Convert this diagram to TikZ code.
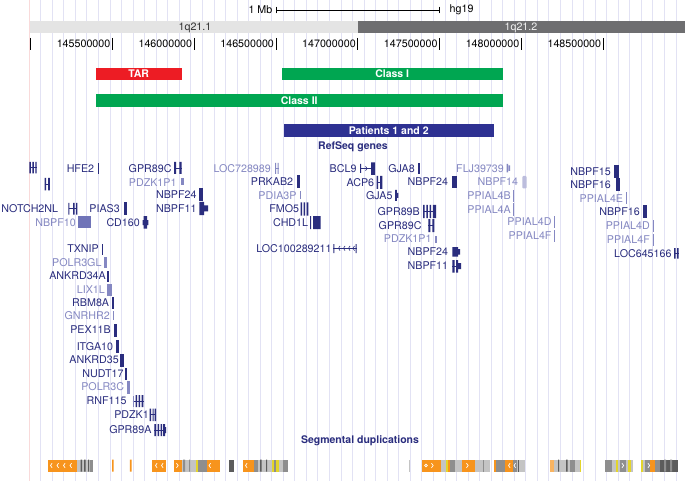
\documentclass[tikz,border=0pt]{standalone}
\usepackage{fontspec}
\setmainfont{TeX Gyre Heros}
\usepackage{tikz}
\usetikzlibrary{positioning}

\definecolor{genedark}{HTML}{2A2D7E}
\definecolor{genelite}{HTML}{8588C2}
\definecolor{genemid}{HTML}{7074B8}
\definecolor{gridblue}{HTML}{E2E2F4}
\definecolor{gridpink}{HTML}{F9DADA}
\definecolor{bandlite}{HTML}{E4E4E4}
\definecolor{banddark}{HTML}{6E6E70}
\definecolor{tarred}{HTML}{ED1C24}
\definecolor{classgreen}{HTML}{00A651}
\definecolor{patblue}{HTML}{2E3192}
\definecolor{sdorange}{HTML}{F7941D}
\definecolor{sdgrayA}{HTML}{C4C4C4}
\definecolor{sdgrayB}{HTML}{8E8E8E}
\definecolor{sdgrayC}{HTML}{5C5C5C}
\definecolor{sdyellow}{HTML}{E3D52B}

\begin{document}
\begin{tikzpicture}[x=1pt, y=-1pt,
    lbl/.style={inner sep=0pt, font=\fontsize{10.7}{12}\selectfont},
    gdark/.style={lbl, anchor=east, text=genedark},
    glite/.style={lbl, anchor=east, text=genelite},
    dk/.style={fill=genedark},
    lt/.style={fill=genelite},
    intron/.style={draw=genedark, line width=0.8pt},
    gridline/.style={draw=gridblue, line width=0.9pt},
    bar/.style={inner sep=0pt, minimum height=12.5pt, anchor=west, text=white,
      font=\fontsize{10.5}{12}\selectfont\bfseries},
    tick/.style={draw=black, line width=0.7pt},
    title/.style={inner sep=0pt, text=genedark, font=\fontsize{10.5}{12}\selectfont\bfseries},
    chev/.style={draw=white, line width=0.7pt}]
        \useasboundingbox (0,0) rectangle (685,481);
        \fill[white] (0,0) rectangle (685,481);

        % Guide lines
        \draw[draw=gridpink, line width=0.9pt] (29.15,0) -- (29.15,481);
        \foreach \k in {1,...,56}
            \draw[gridline] (29.15+\k*11.55,0) -- (29.15+\k*11.55,481);

        % Scale bar
        \coordinate (mbL) at (275.5,10);
        \coordinate (mbR) at (439.5,10);
        \draw[|-|, line width=0.7pt] (mbL) -- (mbR);
        \node (mb) [lbl, left=3pt of mbL] {1 Mb};
        \node (hg) [lbl, right=10pt of mbR] {hg19};

        % Ideogram
        \fill[bandlite] (30,21.5) rectangle (357.7,33.5);
        \fill[banddark] (357.7,21.5) rectangle (685,33.5);
        \node (q211) [lbl, text=black!80] at (195,27.5) {1q21.1};
        \node (q212) [lbl, text=white!90!gray] at (521,27.5) {1q21.2};

        % Base positions
        \draw[tick] (30.5,38) -- (30.5,50);
        \draw[tick] (112.3,38) -- (112.3,50);
        \draw[tick] (194.1,38) -- (194.1,50);
        \draw[tick] (275.9,38) -- (275.9,50);
        \draw[tick] (357.7,38) -- (357.7,50);
        \draw[tick] (439.5,38) -- (439.5,50);
        \draw[tick] (521.3,38) -- (521.3,50);
        \draw[tick] (603.1,38) -- (603.1,50);
        \node (p1) [lbl, anchor=east] at (110.5,44) {145500000};
        \node (p2) [lbl, anchor=east] at (192.3,44) {146000000};
        \node (p3) [lbl, anchor=east] at (274.1,44) {146500000};
        \node (p4) [lbl, anchor=east] at (355.9,44) {147000000};
        \node (p5) [lbl, anchor=east] at (437.7,44) {147500000};
        \node (p6) [lbl, anchor=east] at (519.5,44) {148000000};
        \node (p7) [lbl, anchor=east] at (601.3,44) {148500000};

        % Regions
        \node (tar) [bar, fill=tarred, minimum width=86pt] at (95.5,74) {TAR};
        \node (class1) [bar, fill=classgreen, minimum width=221pt] at (281.5,74) {Class I};
        \node (class2) [bar, fill=classgreen, minimum width=407pt] at (95.5,100.5) {Class II};
        \node (pat) [bar, fill=patblue, minimum width=210pt, minimum height=13pt] at (283.5,130.5) {Patients 1 and 2};

        % RefSeq genes
        \node (refseq) [title] at (353,147) {RefSeq genes};

        \fill[dk] (29.3,162) rectangle (30.8,173.3) (32.3,162) rectangle (33.8,173.3) (35.3,162) rectangle (36.7,173.3);
        \draw[intron] (29.5,167.5) -- (36.5,167.5);
        \fill[dk] (44.5,178) rectangle (46,190.5) (48,178) rectangle (49.8,190.5);
        \draw[intron] (44.5,184) -- (49.8,184);

        \node (hfe2) [gdark] at (94.3,168.3) {HFE2};
        \fill[dk] (97.7,163) rectangle (99,174);
        \node (gpr89ca) [gdark] at (171.7,168.3) {GPR89C};
        \fill[dk] (174,162) rectangle (176,174) (179.3,162) rectangle (181.7,174);
        \draw[intron] (174,168) -- (181.7,168);
        \node (pdzk1p1a) [glite] at (176.7,182.3) {PDZK1P1};
        \fill[lt] (181,178.5) rectangle (184,185.5);
        \node (nbpf24a) [gdark] at (196.7,195) {NBPF24};
        \fill[dk] (199.3,188.5) rectangle (203.3,201.5);
        \node (nbpf11a) [gdark] at (196.7,208.7) {NBPF11};
        \fill[dk] (199.3,202) rectangle (204,215) (203,205.5) rectangle (208,211.5);
        \node (notch2nl) [gdark] at (58.3,208.7) {NOTCH2NL};
        \fill[dk] (68.3,203) rectangle (69.3,214.5) (73,203) rectangle (74.5,214.5) (76,203) rectangle (77.3,214.5);
        \draw[intron] (68.5,208.7) -- (77,208.7);
        \node (pias3) [gdark] at (120,208.7) {PIAS3};
        \fill[dk] (124,202.5) rectangle (126.7,215);
        \node (nbpf10) [glite] at (76,222.7) {NBPF10};
        \fill[genemid] (77.7,216) rectangle (90.7,228.3);
        \node (cd160) [gdark] at (140,222.7) {CD160};
        \fill[dk] (143.5,216) rectangle (147,228.5) (142.7,220) rectangle (148.3,225);

        \node (txnip) [gdark] at (99,249) {TXNIP};
        \fill[dk] (101.7,243.5) rectangle (103,254.5);
        \node (polr3gl) [glite] at (101.7,262.7) {POLR3GL};
        \fill[lt] (104.3,257) rectangle (107.3,268);
        \node (ankrd34a) [gdark] at (106,275.7) {ANKRD34A};
        \fill[dk] (106.5,270.5) rectangle (108.5,281.5);
        \node (lix1l) [glite] at (105,289.7) {LIX1L};
        \fill[lt] (107.3,283.5) rectangle (112.3,296);
        \node (rbm8a) [gdark] at (109.3,302.7) {RBM8A};
        \fill[dk] (112,296.5) rectangle (114.3,309);
        \node (gnrhr2) [glite] at (110,316) {GNRHR2};
        \fill[lt] (112.8,311) rectangle (113.8,320);
        \node (pex11b) [gdark] at (111,330) {PEX11B};
        \fill[dk] (114.3,323.5) rectangle (116.5,337);
        \node (itga10) [gdark] at (113.3,346.7) {ITGA10};
        \fill[dk] (116,340) rectangle (119,353);
        \node (ankrd35) [gdark] at (119,360) {ANKRD35};
        \fill[dk] (120,353.5) rectangle (124,366.5);
        \node (nudt17) [gdark] at (123.7,373.7) {NUDT17};
        \fill[dk] (125.3,367.5) rectangle (127,380);
        \node (polr3c) [glite] at (124.3,387) {POLR3C};
        \fill[lt] (126.7,380.5) rectangle (130,393.5);
        \node (rnf115) [gdark] at (126.7,401) {RNF115};
        \draw[intron] (132.5,401) -- (143.5,401);
        \fill[lt] (132.5,395.5) rectangle (134,406.5);
        \fill[dk] (135.5,395) rectangle (137,407) (138.5,395) rectangle (140,407) (141.5,395) rectangle (143.3,407);
        \node (pdzk1) [gdark] at (149,414.7) {PDZK1};
        \draw[intron] (149.5,414.7) -- (156,414.7);
        \fill[dk] (149.7,408.5) rectangle (151,421) (152.5,408.5) rectangle (153.5,421) (154.5,408.5) rectangle (156,421);
        \node (gpr89a) [gdark] at (151.7,430) {GPR89A};
        \draw[intron] (154.3,430) -- (166,430);
        \fill[dk] (154.3,424) rectangle (156,436) (157.5,424) rectangle (159,436) (160.5,424) rectangle (162,436) (163,424) rectangle (165,436) (164,427) rectangle (166,433);

        \node (loc728989) [glite] at (271,168.3) {LOC728989};
        \fill[lt] (275.2,163) rectangle (276.2,174) (277.7,163) rectangle (278.7,174);
        \draw[genelite, line width=0.8pt] (275.2,168.3) -- (278.7,168.3);
        \node (prkab2) [gdark] at (293.3,182) {PRKAB2};
        \fill[dk] (296.7,175.5) rectangle (300,188.5);
        \node (pdia3p) [glite] at (296.7,195.7) {PDIA3P};
        \fill[lt] (299.8,191) rectangle (300.8,199.5);
        \node (fmo5) [gdark] at (299.3,209) {FMO5};
        \fill[dk] (300.7,202.5) rectangle (302.2,215.5) (303.7,202.5) rectangle (305.2,215.5) (306.7,202.5) rectangle (308.3,215.5);
        \node (chd1l) [gdark] at (308.3,222.7) {CHD1L};
        \fill[dk] (310,216) rectangle (311,229) (313,216) rectangle (320.7,229);
        \node (loc100289211) [gdark] at (331.7,248.3) {LOC100289211};
        \draw[intron] (333.3,248.3) -- (356.7,248.3);
        \fill[dk] (333.3,244) rectangle (334.3,253) (355.5,244) rectangle (356.7,253);
        \foreach \c in {338.5,343.5,348.5,353}
            \draw[genedark, line width=0.6pt] (\c+1.5,246) -- (\c,248.3) -- (\c+1.5,250.6);
        \node (bcl9) [gdark] at (356.7,168.3) {BCL9};
        \draw[intron] (360,168.5) -- (372,168.5);
        \draw[genedark, line width=0.6pt] (365.5,166.2) -- (367,168.5) -- (365.5,170.8);
        \fill[dk] (360,164) rectangle (361,173) (371,162.5) rectangle (375,175);
        \node (acp6) [gdark] at (374.3,182.7) {ACP6};
        \fill[dk] (376.7,176) rectangle (378.2,189) (380,176) rectangle (382.3,189);
        \draw[intron] (376.7,182.5) -- (382.3,182.5);
        \node (gja5) [gdark] at (392.7,195.5) {GJA5};
        \fill[dk] (395,190) rectangle (396.8,201) (396,193) rectangle (398.3,198);
        \node (gja8) [gdark] at (415,168.3) {GJA8};
        \fill[dk] (418.3,163) rectangle (420.3,174);
        \node (nbpf24b) [gdark] at (448.3,181.7) {NBPF24};
        \fill[dk] (452.3,176) rectangle (456.7,188);
        \node (gpr89b) [gdark] at (420,211.7) {GPR89B};
        \draw[intron] (423,211.7) -- (436,211.7);
        \fill[dk] (423,205) rectangle (424.6,218) (426.3,205) rectangle (427.9,218) (429.6,205) rectangle (431.2,218) (432.9,205) rectangle (434.5,218) (434.5,205) rectangle (436.2,218);
        \node (gpr89cb) [gdark] at (421.7,225.3) {GPR89C};
        \fill[dk] (428.3,219) rectangle (430.3,232) (432.3,219) rectangle (434.3,232);
        \draw[intron] (428.3,225.3) -- (434.3,225.3);
        \node (pdzk1p1b) [glite] at (431.7,239) {PDZK1P1};
        \fill[lt] (435,235.5) rectangle (437.3,242.5);
        \node (nbpf24c) [gdark] at (448.3,252) {NBPF24};
        \fill[dk] (452.3,247) rectangle (458,256.5) (458,249) rectangle (460,254.5);
        \node (nbpf11b) [gdark] at (448.3,266) {NBPF11};
        \draw[intron] (452.3,266) -- (461,266);
        \fill[dk] (452.3,260) rectangle (454.5,272.5) (456,260) rectangle (458,272.5) (458,263) rectangle (461,269);

        \node (flj39739) [glite] at (504,168.3) {FLJ39739};
        \fill[lt] (506.7,164) rectangle (508,172.5) (508.7,165.5) rectangle (510,171);
        \node (nbpf14) [glite] at (518.3,181.7) {NBPF14};
        \fill[genelite!55, rounded corners=1pt] (522.3,176) rectangle (526.7,188.5);
        \node (ppial4b) [glite] at (511,196) {PPIAL4B};
        \fill[lt] (513.3,190) rectangle (514.3,202);
        \node (ppial4a) [glite] at (511,209.3) {PPIAL4A};
        \fill[lt] (513.3,203.5) rectangle (514.3,215.5);
        \node (ppial4da) [glite] at (551.7,222) {PPIAL4D};
        \fill[lt] (554,216) rectangle (555,228);
        \node (ppial4fa) [glite] at (551.7,236) {PPIAL4F};
        \fill[lt] (554,230) rectangle (555,242);
        \node (nbpf15) [gdark] at (611,171.7) {NBPF15};
        \fill[dk] (614,165) rectangle (619.3,178);
        \node (nbpf16a) [gdark] at (611,185) {NBPF16};
        \fill[dk] (616,178.5) rectangle (620,191.5);
        \node (ppial4e) [glite] at (623.3,198.3) {PPIAL4E};
        \fill[lt] (626,192.5) rectangle (627.3,204.5);
        \node (nbpf16b) [gdark] at (640,211.7) {NBPF16};
        \fill[dk] (643.3,205.5) rectangle (646.7,218);
        \node (ppial4db) [glite] at (650,226) {PPIAL4D};
        \fill[lt] (653.3,220) rectangle (654.3,232);
        \node (ppial4fb) [glite] at (650,239.5) {PPIAL4F};
        \fill[lt] (653.3,233.5) rectangle (654.3,245.5);
        \node (loc645166) [gdark] at (671.7,253.3) {LOC645166};
        \fill[dk] (674,248) rectangle (675.5,258.5) (677,248) rectangle (678.5,258.5);
        \draw[intron] (674,253.3) -- (678.5,253.3);

        % Segmental duplications
        \node (segdup) [title] at (360,441) {Segmental duplications};

        \fill[sdorange] (48.3,459.5) rectangle (77,471.5);
        \fill[sdgrayA] (77,459.5) rectangle (93,471.5);
        \fill[sdgrayC] (80.5,459.5) rectangle (82,471.5) (84,459.5) rectangle (85.5,471.5) (88,459.5) rectangle (89,471.5);
        \fill[sdgrayB] (90,459.5) rectangle (93,471.5);
        \fill[sdorange] (112,459.5) rectangle (113.5,471.5) (129.8,459.5) rectangle (131.5,471.5);
        \fill[sdorange] (152,459.5) rectangle (166,471.5);
        \fill[sdorange] (174,459.5) rectangle (181.5,471.5);
        \fill[sdgrayA] (181.5,459.5) rectangle (195.5,471.5);
        \fill[sdgrayB] (183,459.5) rectangle (185,471.5) (189,459.5) rectangle (190,471.5);
        \fill[sdyellow] (195.5,459.5) rectangle (197.5,471.5);
        \fill[sdgrayB] (197.5,459.5) rectangle (206.5,471.5);
        \fill[sdorange] (206.5,459.5) rectangle (220,471.5);
        \fill[sdgrayC] (229,459.5) rectangle (234,471.5);
        \fill[sdorange] (243,459.5) rectangle (253.5,471.5);
        \fill[sdgrayB] (253.5,459.5) rectangle (258,471.5);
        \fill[sdgrayA] (258,459.5) rectangle (271.5,471.5);
        \fill[sdgrayC] (260,459.5) rectangle (261.5,471.5) (266,459.5) rectangle (267,471.5);
        \fill[sdyellow] (271.5,459.5) rectangle (273.5,471.5);
        \fill[sdgrayB] (273.5,459.5) rectangle (276,471.5);
        \fill[sdyellow] (276,459.5) rectangle (278.5,471.5);
        \fill[sdgrayA] (278.5,459.5) rectangle (283,471.5);
        \fill[sdgrayB] (283,459.5) rectangle (288,471.5);

        \fill[sdgrayA] (409,459.5) rectangle (410,471.5);
        \fill[sdorange] (422,459.5) rectangle (441,471.5);
        \fill[sdgrayA] (441,459.5) rectangle (446,471.5);
        \fill[sdyellow] (446,459.5) rectangle (447.5,471.5);
        \fill[sdorange] (447.5,459.5) rectangle (449.5,471.5);
        \fill[sdgrayB] (449.5,459.5) rectangle (455,471.5);
        \fill[sdgrayA] (455,459.5) rectangle (462,471.5);
        \fill[sdorange] (462,459.5) rectangle (475,471.5);
        \fill[sdgrayA] (475,459.5) rectangle (490,471.5);
        \fill[sdgrayB] (483,459.5) rectangle (484,471.5);
        \fill[sdorange] (493.5,459.5) rectangle (495.5,471.5);
        \fill[sdgrayB] (496,459.5) rectangle (505,471.5);
        \fill[sdorange] (505,459.5) rectangle (512.5,471.5);
        \fill[sdgrayB] (512.5,459.5) rectangle (517,471.5);
        \fill[sdgrayA] (517,459.5) rectangle (525,471.5);
        \fill[sdgrayC] (517.5,459.5) rectangle (518.5,471.5);
        \fill[sdorange!70] (550,459.5) rectangle (553.5,471.5);
        \fill[sdgrayA] (553.5,459.5) rectangle (581,471.5);
        \fill[sdgrayC] (558,459.5) rectangle (559,471.5) (566,459.5) rectangle (567.5,471.5);
        \fill[sdgrayB] (570,459.5) rectangle (575,471.5);
        \fill[sdyellow] (579.5,459.5) rectangle (581,471.5);
        \fill[sdgrayB] (605,459.5) rectangle (612,471.5);
        \fill[sdgrayA] (612,459.5) rectangle (616,471.5);
        \fill[sdyellow] (616,459.5) rectangle (618,471.5);
        \fill[sdgrayA] (618,459.5) rectangle (620,471.5);
        \fill[sdgrayB] (620,459.5) rectangle (626,471.5);
        \fill[sdgrayA] (626,459.5) rectangle (628,471.5);
        \fill[sdyellow] (628,459.5) rectangle (631,471.5);
        \fill[sdgrayA] (631,459.5) rectangle (633,471.5);
        \fill[sdyellow] (640.5,459.5) rectangle (642.5,471.5);
        \fill[sdgrayA] (642.5,459.5) rectangle (645,471.5);
        \fill[sdgrayB] (645,459.5) rectangle (650,471.5);
        \fill[sdorange] (650,459.5) rectangle (654.5,471.5);
        \fill[sdgrayB] (654.5,459.5) rectangle (660,471.5);
        \fill[sdgrayC] (660,459.5) rectangle (678,471.5);
        \fill[sdgrayB] (664,459.5) rectangle (666,471.5) (670,459.5) rectangle (672,471.5);

        \foreach \c in {50.5,57,63.5,70,155.5,161.5,209,245.5,508.5,514}
            \draw[chev] (\c+1.6,463.2) -- (\c,465.5) -- (\c+1.6,467.8);
        \foreach \c in {176.5,431.5,466.5,622,648}
            \draw[chev] (\c,463.2) -- (\c+1.6,465.5) -- (\c,467.8);
        \draw[chev] (426,465.5) circle (1.4);
\end{tikzpicture}
\end{document}
